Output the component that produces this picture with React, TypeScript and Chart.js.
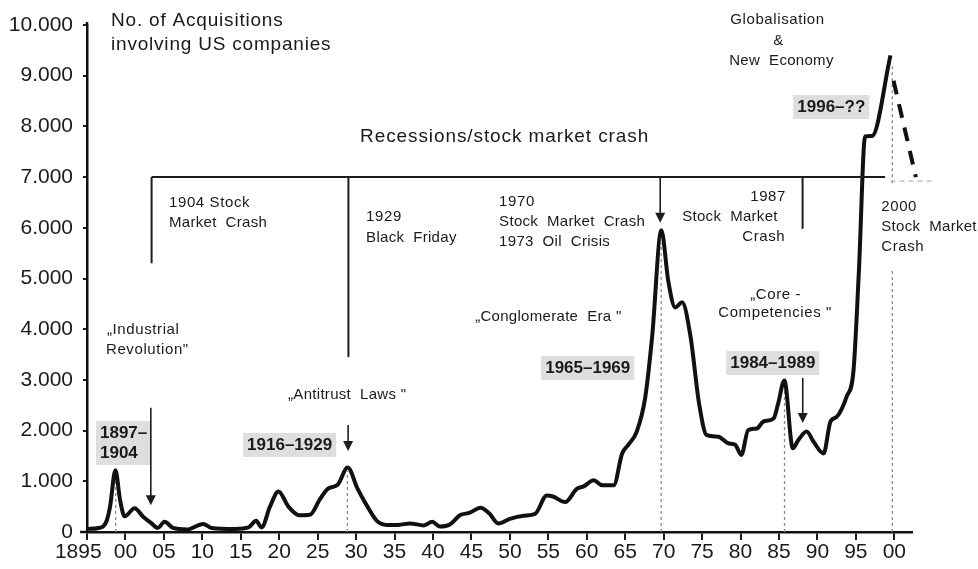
import React, { useEffect, useRef } from "react";
import { Chart, registerables } from "chart.js";

Chart.register(...registerables);

// ---- Data ----
const years = [1895, 1896.5, 1897.5, 1898.0, 1898.7, 1899.3, 1899.9, 1901.2, 1902.3, 1903.4, 1904.2, 1905.1, 1906.2, 1908.0, 1910.1, 1911.2, 1914.3, 1916.0, 1917.0, 1917.7, 1918.8, 1919.9, 1921.2, 1922.6, 1924.0, 1925.3, 1926.4, 1927.6, 1928.9, 1930.2, 1931.4, 1932.7, 1934.0, 1935.5, 1937.0, 1938.8, 1939.9, 1940.9, 1942.2, 1943.5, 1944.8, 1946.2, 1947.3, 1948.5, 1950.0, 1951.8, 1953.3, 1954.8, 1955.6, 1957.2, 1958.7, 1959.6, 1960.9, 1962.0, 1963.5, 1964.6, 1965.4, 1966.5, 1967.6, 1968.5, 1969.7, 1970.6, 1971.5, 1972.4, 1973.5, 1974.6, 1975.6, 1977.1, 1978.4, 1979.3, 1980.1, 1981.0, 1982.1, 1983.0, 1984.3, 1984.9, 1985.7, 1986.8, 1987.5, 1988.6, 1989.5, 1990.8, 1991.7, 1992.5, 1993.8, 1994.7, 1995.4, 1996.2, 1997.1, 1999.5];
const acquisitions = [60, 80, 200, 500, 1220, 630, 310, 470, 300, 170, 80, 200, 80, 50, 160, 80, 60, 90, 220, 90, 500, 800, 500, 330, 340, 650, 860, 930, 1270, 850, 520, 220, 140, 140, 170, 130, 200, 110, 150, 330, 380, 480, 370, 170, 260, 320, 360, 720, 700, 590, 850, 900, 1020, 920, 920, 1550, 1720, 1980, 2650, 3850, 5950, 4950, 4430, 4530, 3850, 2540, 1910, 1880, 1750, 1720, 1520, 2010, 2040, 2180, 2240, 2540, 2990, 1650, 1810, 1980, 1780, 1550, 2180, 2270, 2670, 3200, 5170, 7800, 7810, 9400];

const projectionYears = [1999.9, 2002.8];
const projectionValues = [8900, 7000];

const xTickValues = [1895, 1900, 1905, 1910, 1915, 1920, 1925, 1930, 1935, 1940, 1945, 1950, 1955, 1960, 1965, 1970, 1975, 1980, 1985, 1990, 1995, 2000];
const xTickLabels = ["1895   ", "00", "05", "10", "15", "20", "25", "30", "35", "40", "45", "50", "55", "60", "65", "70", "75", "80", "85", "90", "95", "00"];
const yTickValues = [0, 1000, 2000, 3000, 4000, 5000, 6000, 7000, 8000, 9000, 10000];
const yTickLabels = ["0", "1.000", "2.000", "3.000", "4.000", "5.000", "6.000", "7.000", "8.000", "9.000", "10.000"];

// ---- Annotation layout (in data units: year / number of acquisitions) ----
const FONT = '"Liberation Sans", Arial, Helvetica, sans-serif';

const guides = [
  { year: 1898.73, from: 0, to: 1150 },
  { year: 1928.87, from: 0, to: 1200 },
  { year: 1969.68, from: 0, to: 5700 },
  { year: 1985.72, from: 0, to: 2900 },
  { year: 1999.74, from: 0, to: 5200 },
  { year: 1999.74, from: 6880, to: 9250 },
];

const frameLines = [
  { x1: 1903.4, y1: 7000, x2: 1998.8, y2: 7000 },
  { x1: 1903.4, y1: 7000, x2: 1903.4, y2: 5300 },
  { x1: 1929.0, y1: 7000, x2: 1929.0, y2: 3450 },
  { x1: 1988.07, y1: 7000, x2: 1988.07, y2: 5980 },
];

const arrows = [
  { year: 1969.55, from: 7000, to: 6100 },
  { year: 1903.3, from: 2450, to: 530 },
  { year: 1928.96, from: 2110, to: 1600 },
  { year: 1988.09, from: 3040, to: 2150 },
];

const labels = [
  { t: "No. of Acquisitions", x: 1898.12, y: 10079, s: 19, ls: 0.8 },
  { t: "involving US companies", x: 1898.12, y: 9606, s: 19, ls: 0.8 },
  { t: "Recessions/stock market crash", x: 1930.52, y: 7791, s: 19, ls: 0.9 },
  { t: "1904 Stock", x: 1905.67, y: 6489, s: 15, ls: 0.6 },
  { t: "Market  Crash", x: 1905.67, y: 6095, s: 15, ls: 0.3 },
  { t: "1929", x: 1931.3, y: 6213, s: 15, ls: 0.6 },
  { t: "Black  Friday", x: 1931.3, y: 5799, s: 15, ls: 0.3 },
  { t: "1970", x: 1948.6, y: 6509, s: 15, ls: 0.6 },
  { t: "Stock  Market  Crash", x: 1948.6, y: 6114, s: 15, ls: 0.3 },
  { t: "1973  Oil  Crisis", x: 1948.6, y: 5720, s: 15, ls: 0.3 },
  { t: "1987", x: 1981.26, y: 6608, s: 15, ls: 0.6 },
  { t: "Stock  Market", x: 1972.41, y: 6213, s: 15, ls: 0.3 },
  { t: "Crash", x: 1980.22, y: 5819, s: 15, ls: 0.6 },
  { t: "2000", x: 1998.3, y: 6410, s: 15, ls: 0.6 },
  { t: "Stock  Market", x: 1998.3, y: 6016, s: 15, ls: 0.3 },
  { t: "Crash", x: 1998.3, y: 5621, s: 15, ls: 0.6 },
  { t: "Globalisation", x: 1978.66, y: 10099, s: 15, ls: 0.6 },
  { t: "&", x: 1984.25, y: 9684, s: 15, ls: 0.6 },
  { t: "New  Economy", x: 1978.53, y: 9290, s: 15, ls: 0.3 },
  { t: "\u201EIndustrial", x: 1897.6, y: 3984, s: 15, ls: 0.6 },
  { t: "Revolution\"", x: 1897.47, y: 3590, s: 15, ls: 0.6 },
  { t: "\u201EAntitrust  Laws \"", x: 1921.15, y: 2702, s: 15, ls: 0.3 },
  { t: "\u201EConglomerate  Era \"", x: 1945.48, y: 4241, s: 15, ls: 0.3 },
  { t: "\u201ECore -", x: 1981.26, y: 4675, s: 15, ls: 0.6 },
  { t: "Competencies \"", x: 1977.1, y: 4320, s: 15, ls: 0.6 },
];

const boxedLabels = [
  { lines: ["1897\u2013", "1904"], x: 1896.69, y: [1953, 1558] },
  { lines: ["1916\u20131929"], x: 1915.82, y: [1716] },
  { lines: ["1965\u20131969"], x: 1954.59, y: [3235] },
  { lines: ["1984\u20131989"], x: 1978.66, y: [3333] },
  { lines: ["1996\u2013??"], x: 1987.38, y: [8383] },
];

const annotationPlugin = {
  id: "mergerAnnotations",
  beforeDatasetsDraw(chart: any) {
    const ctx = chart.ctx;
    const xs = chart.scales.x;
    const ys = chart.scales.y;
    const X = (v: number) => xs.getPixelForValue(v);
    const Y = (v: number) => ys.getPixelForValue(v);
    ctx.save();
    ctx.strokeStyle = "#8c8c8c";
    ctx.lineWidth = 1.3;
    ctx.setLineDash([3, 3]);
    for (const g of guides) {
      ctx.beginPath();
      ctx.moveTo(X(g.year), Y(g.from));
      ctx.lineTo(X(g.year), Y(g.to));
      ctx.stroke();
    }
    // faint continuation of recession line
    ctx.strokeStyle = "#b5b5b5";
    ctx.setLineDash([5, 4]);
    ctx.beginPath();
    ctx.moveTo(X(1999.5), Y(6920));
    ctx.lineTo(X(2005.2), Y(6920));
    ctx.stroke();
    ctx.setLineDash([]);

    // small axis overhangs
    ctx.strokeStyle = "#111111";
    ctx.lineWidth = 2.5;
    ctx.beginPath();
    ctx.moveTo(X(1894.1), Y(0));
    ctx.lineTo(X(1895), Y(0));
    ctx.moveTo(X(1895), Y(10000));
    ctx.lineTo(X(1895), Y(10060));
    ctx.stroke();

    // boxes behind labels
    ctx.font = `bold 17px ${FONT}`;
    ctx.fillStyle = "#dedede";
    for (const b of boxedLabels) {
      const w = Math.max(...b.lines.map((l) => ctx.measureText(l).width));
      const left = X(b.x) - 4;
      const top = Y(b.y[0]) - 12;
      const bottom = Y(b.y[b.y.length - 1]) + 12;
      ctx.fillRect(left, top, w + 8, bottom - top);
    }
    ctx.restore();
  },
  afterDatasetsDraw(chart: any) {
    const ctx = chart.ctx;
    const xs = chart.scales.x;
    const ys = chart.scales.y;
    const X = (v: number) => xs.getPixelForValue(v);
    const Y = (v: number) => ys.getPixelForValue(v);
    ctx.save();
    ctx.strokeStyle = "#1c1c1c";
    ctx.fillStyle = "#1c1c1c";
    ctx.lineWidth = 2;
    for (const l of frameLines) {
      ctx.beginPath();
      ctx.moveTo(X(l.x1), Y(l.y1));
      ctx.lineTo(X(l.x2), Y(l.y2));
      ctx.stroke();
    }
    ctx.lineWidth = 1.6;
    for (const a of arrows) {
      const x = X(a.year);
      const y1 = Y(a.from);
      const y2 = Y(a.to);
      ctx.beginPath();
      ctx.moveTo(x, y1);
      ctx.lineTo(x, y2 - 8);
      ctx.stroke();
      ctx.beginPath();
      ctx.moveTo(x - 5, y2 - 10);
      ctx.lineTo(x + 5, y2 - 10);
      ctx.lineTo(x, y2);
      ctx.closePath();
      ctx.fill();
    }

    ctx.textBaseline = "middle";
    ctx.textAlign = "left";
    ctx.fillStyle = "#1a1a1a";
    for (const t of labels) {
      ctx.font = `${t.s}px ${FONT}`;
      (ctx as any).letterSpacing = `${t.ls}px`;
      ctx.fillText(t.t, X(t.x), Y(t.y));
    }
    (ctx as any).letterSpacing = "0px";
    ctx.font = `bold 17px ${FONT}`;
    for (const b of boxedLabels) {
      b.lines.forEach((line, i) => ctx.fillText(line, X(b.x), Y(b.y[i])));
    }
    ctx.restore();
  },
};

export default function App() {
  const canvasRef = useRef<HTMLCanvasElement | null>(null);

  useEffect(() => {
    document.body.style.margin = "0";
    const canvas = canvasRef.current;
    if (!canvas) return;
    const mainPoints = years.map((yr, i) => ({ x: yr, y: acquisitions[i] }));
    const projPoints = projectionYears.map((yr, i) => ({ x: yr, y: projectionValues[i] }));

    const chart = new Chart(canvas, {
      type: "line",
      data: {
        datasets: [
          {
            label: "No. of Acquisitions involving US companies",
            data: mainPoints,
            borderColor: "#111111",
            borderWidth: 4,
            pointRadius: 0,
            cubicInterpolationMode: "monotone",
            fill: false,
          },
          {
            label: "Projection",
            data: projPoints,
            borderColor: "#111111",
            borderWidth: 4,
            borderDash: [14, 10],
            pointRadius: 0,
            fill: false,
            clip: false as any,
          },
        ],
      },
      options: {
        responsive: false,
        animation: false,
        devicePixelRatio: 1,
        layout: { padding: { left: 0, top: 25, right: 66, bottom: 0 } },
        plugins: {
          legend: { display: false },
          tooltip: { enabled: false },
          title: { display: false },
        },
        scales: {
          x: {
            type: "linear",
            min: 1895,
            max: 2002.3,
            afterFit: (s: any) => {
              s.height = 37;
            },
            afterBuildTicks: (s: any) => {
              s.ticks = xTickValues.map((v) => ({ value: v }));
            },
            ticks: {
              autoSkip: false,
              maxRotation: 0,
              padding: 0,
              color: "#1a1a1a",
              font: { family: FONT, size: 21 },
              callback: (v: any) => {
                const i = xTickValues.indexOf(Number(v));
                return i >= 0 ? xTickLabels[i] : "";
              },
            },
            grid: {
              drawOnChartArea: false,
              drawTicks: true,
              tickLength: 8,
              color: "#1a1a1a",
              lineWidth: 2,
            },
            border: { display: true, color: "#111111", width: 2.5 },
          },
          y: {
            type: "linear",
            min: 0,
            max: 10000,
            afterFit: (s: any) => {
              s.width = 87;
            },
            afterBuildTicks: (s: any) => {
              s.ticks = yTickValues.map((v) => ({ value: v }));
            },
            ticks: {
              padding: 10,
              color: "#1a1a1a",
              font: { family: FONT, size: 21 },
              callback: (v: any) => {
                const i = yTickValues.indexOf(Number(v));
                return i >= 0 ? yTickLabels[i] : "";
              },
            },
            grid: {
              drawOnChartArea: false,
              drawTicks: true,
              tickLength: 4,
              color: "#1a1a1a",
              lineWidth: 2,
            },
            border: { display: true, color: "#111111", width: 2.5 },
          },
        },
      },
      plugins: [annotationPlugin],
    });
    return () => chart.destroy();
  }, []);

  return (
    <div style={{ width: 978, height: 569, background: "#ffffff" }}>
      <canvas ref={canvasRef} width={978} height={569} style={{ display: "block" }} />
    </div>
  );
}
